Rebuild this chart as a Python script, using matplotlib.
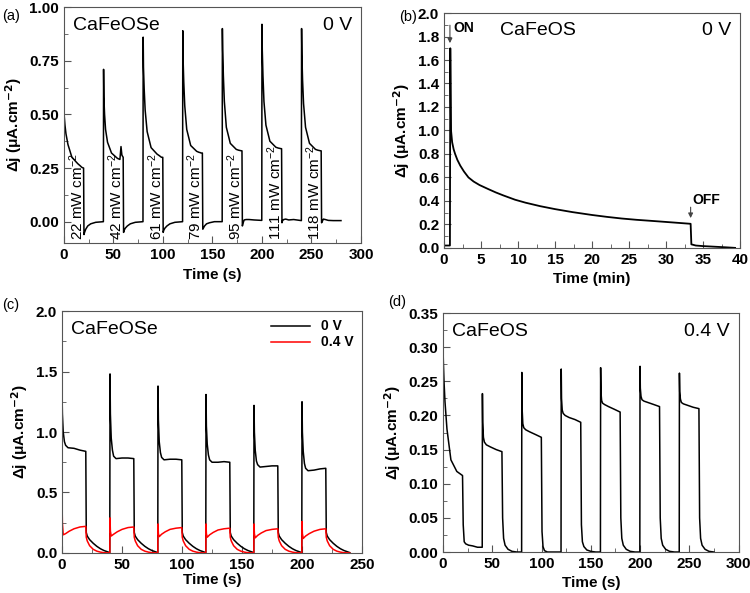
# -*- coding: utf-8 -*-
"""
Transient photocurrent of CaFeOSe / CaFeOS: four panels (a)-(d).
"""
import matplotlib
matplotlib.use("Agg")
import matplotlib.pyplot as plt
from matplotlib.ticker import MultipleLocator

plt.rcParams["font.family"] = ["Liberation Sans", "DejaVu Sans"]
plt.rcParams["mathtext.default"] = "regular"
plt.rcParams["axes.edgecolor"] = "#555555"

# ---------------- (a) CaFeOSe, 0 V, light-intensity series ----------------
A_ON = [0, 40, 80, 120, 160, 200, 240]
A_POWER = ["22", "42", "61", "79", "95", "111", "118"]
A_ON_DT = [0, 0.3, 1, 2, 4, 8, 14, 16.5, 17.6, 18.5, 19.8]
A_ON_J = [
    [0.52, 0.49, 0.45, 0.41, 0.36, 0.30, 0.27, 0.26, 0.255, 0.252, 0.25],
    [0.71, 0.58, 0.50, 0.43, 0.37, 0.32, 0.295, 0.29, 0.35, 0.31, 0.30],
    [0.86, 0.72, 0.62, 0.52, 0.42, 0.345, 0.315, 0.307, 0.303, 0.30, 0.30],
    [0.89, 0.76, 0.65, 0.54, 0.43, 0.355, 0.328, 0.323, 0.322, 0.32, 0.32],
    [0.90, 0.80, 0.68, 0.56, 0.44, 0.365, 0.337, 0.333, 0.332, 0.331, 0.33],
    [0.92, 0.80, 0.68, 0.56, 0.45, 0.375, 0.347, 0.343, 0.342, 0.341, 0.34],
    [0.90, 0.78, 0.66, 0.55, 0.44, 0.365, 0.337, 0.333, 0.332, 0.331, 0.33],
]
A_OFF_DT = [0.2, 0.8, 2, 4, 7, 12, 19.8]
A_OFF_J = [
    [-0.06, -0.05, -0.035, -0.02, -0.01, -0.003, 0.0],
    [-0.05, -0.04, -0.03, -0.02, -0.01, -0.003, 0.0],
    [-0.05, -0.04, -0.03, -0.02, -0.01, -0.003, 0.0],
    [-0.035, -0.03, -0.02, -0.01, -0.005, 0.0, 0.0],
    [-0.02, -0.008, 0.008, 0.01, 0.01, 0.008, 0.006],
    [-0.005, 0.005, 0.01, 0.012, 0.008, 0.01, 0.005],
    [-0.005, 0.0, 0.012, 0.01, 0.006, 0.005, 0.005],
]

# ---------------- (b) CaFeOS, 0 V, long illumination ----------------
B_T = [0, 0.5, 0.8, 0.85, 0.95, 1.1, 1.3, 1.5, 1.8, 2.2, 2.7, 3.3, 4.0, 4.8,
       6, 7, 8, 9.6, 11, 13, 15, 17.3, 20, 22, 24, 26, 28, 31, 33.3, 33.4,
       34, 35, 36.5, 38, 39.3]
B_J = [0.02, 0.02, 0.02, 1.70, 1.0, 0.9, 0.84, 0.8, 0.75, 0.7, 0.65, 0.6,
       0.565, 0.535, 0.5, 0.472, 0.447, 0.41, 0.385, 0.355, 0.33, 0.305,
       0.28, 0.264, 0.25, 0.239, 0.23, 0.216, 0.205, 0.03, 0.02, 0.015,
       0.01, 0.005, 0.0]

# ---------------- (c) CaFeOSe, 0 V vs 0.4 V ----------------
C_ON = [0, 40, 80, 120, 160, 200]
C0_ON_DT = [0, 0.3, 1, 2, 3, 5, 10, 15, 19.8]
C0_ON_J = [
    [1.32, 1.15, 1.00, 0.92, 0.89, 0.87, 0.865, 0.85, 0.84],
    [1.48, 1.15, 0.95, 0.85, 0.80, 0.78, 0.785, 0.785, 0.78],
    [1.38, 1.10, 0.92, 0.83, 0.79, 0.77, 0.775, 0.775, 0.77],
    [1.31, 1.05, 0.90, 0.81, 0.77, 0.75, 0.75, 0.755, 0.75],
    [1.22, 1.00, 0.85, 0.76, 0.73, 0.71, 0.715, 0.72, 0.72],
    [1.25, 1.00, 0.84, 0.74, 0.70, 0.68, 0.685, 0.695, 0.70],
]
C0_OFF_DT = [0.2, 1, 3, 6, 9, 12, 15, 19.8]
C0_OFF_J = [[0.17, 0.14, 0.11, 0.08, 0.055, 0.035, 0.02, 0.003]] * 6

C4_ON_DT = [0, 0.3, 1, 3, 6, 10, 15, 19.8]
C4_ON_J = [
    [0.42, 0.25, 0.15, 0.16, 0.18, 0.20, 0.215, 0.22],
    [0.29, 0.18, 0.14, 0.155, 0.175, 0.195, 0.21, 0.215],
    [0.24, 0.16, 0.135, 0.155, 0.175, 0.195, 0.205, 0.21],
    [0.24, 0.16, 0.13, 0.15, 0.17, 0.19, 0.20, 0.205],
    [0.24, 0.16, 0.125, 0.145, 0.165, 0.185, 0.195, 0.20],
    [0.26, 0.16, 0.12, 0.14, 0.16, 0.18, 0.195, 0.20],
]
C4_OFF_DT = [0.2, 1, 3, 6, 9, 12, 15, 19.8]
C4_OFF_J = [[0.13, 0.10, 0.06, 0.03, 0.015, 0.007, 0.002, 0.0]] * 6

# ---------------- (d) CaFeOS, 0.4 V ----------------
D_ON = [0, 40, 80, 120, 160, 200, 240]
D_ON_DT = [0, 0.3, 1, 2, 4, 8, 14, 19.8]
D_ON_J = [
    [0.30, 0.28, 0.25, 0.22, 0.18, 0.135, 0.118, 0.112],
    [0.232, 0.19, 0.168, 0.161, 0.157, 0.154, 0.150, 0.147],
    [0.263, 0.21, 0.188, 0.182, 0.179, 0.176, 0.172, 0.168],
    [0.268, 0.225, 0.208, 0.203, 0.200, 0.197, 0.194, 0.190],
    [0.270, 0.235, 0.222, 0.218, 0.216, 0.213, 0.209, 0.205],
    [0.272, 0.240, 0.228, 0.223, 0.221, 0.219, 0.216, 0.213],
    [0.262, 0.235, 0.224, 0.219, 0.217, 0.215, 0.212, 0.210],
]
D_OFF_DT = [0.5, 1.5, 3, 6, 10, 15]
D_OFF_J = [
    [0.04, 0.015, 0.012, 0.010, 0.009, 0.007],
    [0.05, 0.02, 0.01, 0.004, 0.001, 0.0],
    [0.03, 0.008, 0.002, 0.0, 0.0, 0.0],
    [0.04, 0.015, 0.008, 0.003, 0.001, 0.0],
    [0.05, 0.02, 0.01, 0.004, 0.001, 0.0],
    [0.05, 0.02, 0.01, 0.004, 0.001, 0.0],
    [0.05, 0.02, 0.01, 0.004, 0.001, 0.0],
]
D_HOLD = [0.007, 0.0, 0.0, 0.0, 0.0, 0.0, 0.0]   # level held until next ON

YLABEL = r"$\Delta$j (μA.cm$^{\mathbf{-2}}$)"


def build_trace(on_times, on_dt, on_j, off_dt, off_j, hold=None, width=20):
    t, j = [], []
    for k, t0 in enumerate(on_times):
        t += [t0 + d for d in on_dt]
        j += list(on_j[k])
        t += [t0 + width + d for d in off_dt]
        j += list(off_j[k])
        if hold is not None and k + 1 < len(on_times):
            t.append(on_times[k + 1] - 0.2)
            j.append(hold[k])
    return t, j


def style_axes(ax, xlim, ylim, xmaj, xmin, ymaj, ymin, yfmt, xlabel):
    ax.set_xlim(*xlim)
    ax.set_ylim(*ylim)
    ax.xaxis.set_major_locator(MultipleLocator(xmaj))
    ax.xaxis.set_minor_locator(MultipleLocator(xmin))
    ax.yaxis.set_major_locator(MultipleLocator(ymaj))
    ax.yaxis.set_minor_locator(MultipleLocator(ymin))
    ax.yaxis.set_major_formatter(yfmt)
    ax.tick_params(which="both", direction="in", color="#555555")
    ax.tick_params(which="major", length=5)
    ax.tick_params(which="minor", length=3)
    for lab in ax.get_xticklabels() + ax.get_yticklabels():
        lab.set_fontsize(11)
        lab.set_fontweight("bold")
    ax.set_xlabel(xlabel, fontsize=11, fontweight="bold")
    ax.set_ylabel(YLABEL, fontsize=11, fontweight="bold")


fig = plt.figure(figsize=(7.5, 5.93), dpi=100)
ax_a = fig.add_axes([0.0853, 0.590, 0.396, 0.398])
ax_b = fig.add_axes([0.592, 0.582, 0.395, 0.396])
ax_c = fig.add_axes([0.0827, 0.0675, 0.400, 0.408])
ax_d = fig.add_axes([0.5907, 0.0691, 0.394, 0.403])

# (a)
t, j = build_trace(A_ON, A_ON_DT, A_ON_J, A_OFF_DT, A_OFF_J)
ax_a.plot(t, j, color="black", lw=1.1)
for t0, p in zip(A_ON, A_POWER):
    ax_a.text(t0 + 3, -0.085, p + r" mW cm$^{-2}$", rotation=90,
              fontsize=11, ha="left", va="bottom")
style_axes(ax_a, (0, 300), (-0.1, 1.0), 50, 25, 0.25, 0.125, "{x:.2f}",
           "Time (s)")
ax_a.text(0.03, 0.96, "CaFeOSe", transform=ax_a.transAxes, fontsize=14,
          va="top")
ax_a.text(0.97, 0.96, "0 V", transform=ax_a.transAxes, fontsize=14,
          va="top", ha="right")

# (b)
ax_b.plot(B_T, B_J, color="black", lw=1.3)
style_axes(ax_b, (0, 40), (0, 2.0), 5, 2.5, 0.2, 0.1, "{x:.1f}",
           "Time (min)")
ax_b.text(0.19, 0.96, "CaFeOS", transform=ax_b.transAxes, fontsize=14,
          va="top")
ax_b.text(0.97, 0.96, "0 V", transform=ax_b.transAxes, fontsize=14,
          va="top", ha="right")
arrow = dict(arrowstyle="-|>", color="#444444", lw=0.8, mutation_scale=7)
ax_b.annotate("", xy=(0.8, 1.72), xytext=(0.8, 1.92), arrowprops=arrow)
ax_b.text(1.3, 1.87, "ON", fontsize=10, fontweight="bold", va="center")
ax_b.annotate("", xy=(33.3, 0.23), xytext=(33.3, 0.37), arrowprops=arrow)
ax_b.text(33.6, 0.41, "OFF", fontsize=10, fontweight="bold", va="center")

# (c)
t, j = build_trace(C_ON, C0_ON_DT, C0_ON_J, C0_OFF_DT, C0_OFF_J)
ax_c.plot(t, j, color="black", lw=1.1, label="0 V")
t, j = build_trace(C_ON, C4_ON_DT, C4_ON_J, C4_OFF_DT, C4_OFF_J)
ax_c.plot(t, j, color="red", lw=1.1, label="0.4 V")
style_axes(ax_c, (0, 250), (0, 2.0), 50, 25, 0.5, 0.25, "{x:.1f}",
           "Time (s)")
ax_c.xaxis.labelpad = 1
ax_c.text(0.03, 0.96, "CaFeOSe", transform=ax_c.transAxes, fontsize=14,
          va="top")
ax_c.legend(loc="upper right", frameon=False, handlelength=2.8,
            prop=dict(weight="bold", size=10), borderaxespad=0.2,
            labelspacing=0.15)

# (d)
t, j = build_trace(D_ON, D_ON_DT, D_ON_J, D_OFF_DT, D_OFF_J, hold=D_HOLD)
ax_d.plot(t, j, color="black", lw=1.1)
style_axes(ax_d, (0, 300), (0, 0.35), 50, 25, 0.05, 0.025, "{x:.2f}",
           "Time (s)")
ax_d.text(0.03, 0.96, "CaFeOS", transform=ax_d.transAxes, fontsize=14,
          va="top")
ax_d.text(0.97, 0.96, "0.4 V", transform=ax_d.transAxes, fontsize=14,
          va="top", ha="right")

# panel letters
for x, y, s in [(0.003, 0.985, "(a)"), (0.532, 0.983, "(b)"),
                (0.003, 0.498, "(c)"), (0.517, 0.502, "(d)")]:
    fig.text(x, y, s, fontsize=10.5, va="top")

fig.savefig("out.png", dpi=100)
